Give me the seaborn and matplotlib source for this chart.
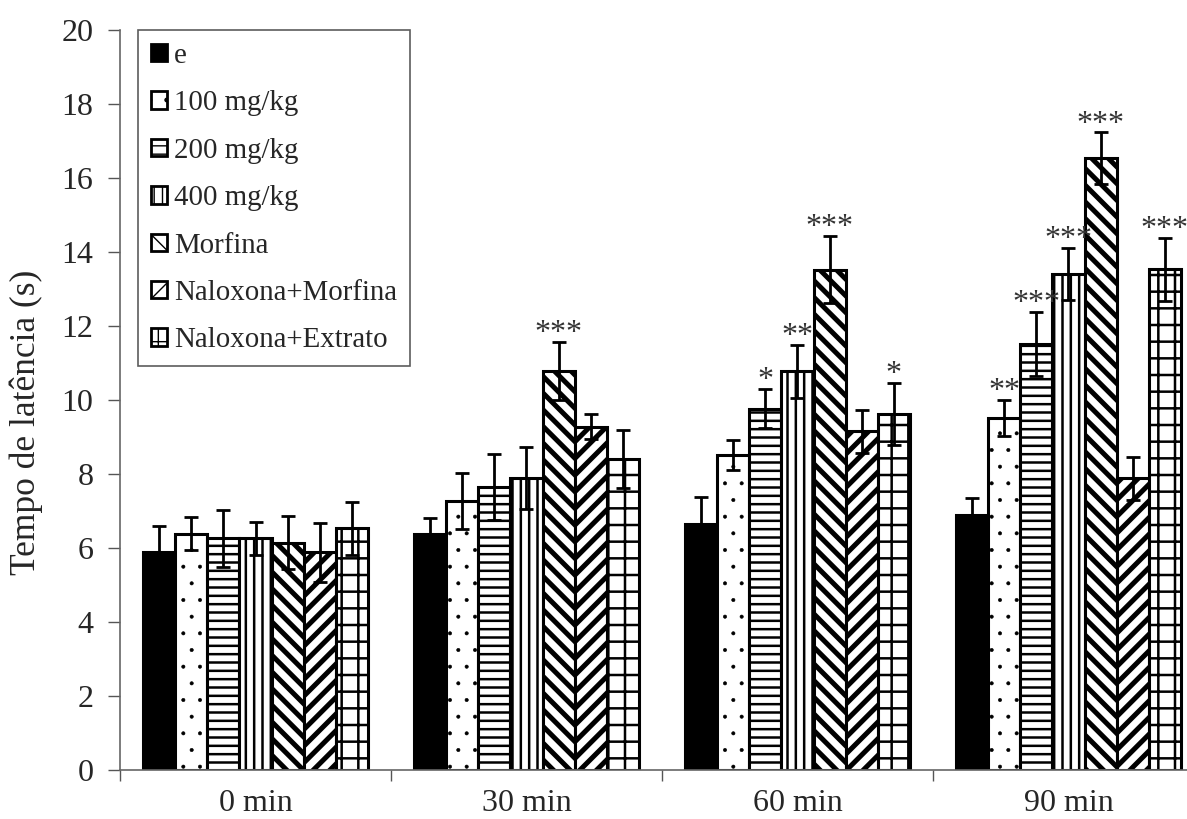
import numpy as np
import pandas as pd
import matplotlib
matplotlib.use("Agg")
import matplotlib.pyplot as plt
import seaborn as sns

# --- data -------------------------------------------------------------
tempos = ["0 min", "30 min", "60 min", "90 min"]
grupos = ["e", "100 mg/kg", "200 mg/kg", "400 mg/kg", "Morfina",
          "Naloxona+Morfina", "Naloxona+Extrato"]

media_e = [5.88, 6.39, 6.65, 6.88]
media_100 = [6.39, 7.27, 8.52, 9.52]
media_200 = [6.26, 7.65, 9.77, 11.52]
media_400 = [6.26, 7.89, 10.78, 13.40]
media_morfina = [6.14, 10.78, 13.52, 16.53]
media_nal_morfina = [5.88, 9.28, 9.15, 7.88]
media_nal_extrato = [6.53, 8.40, 9.63, 13.53]

epm_e = [0.72, 0.41, 0.72, 0.48]
epm_100 = [0.45, 0.75, 0.40, 0.49]
epm_200 = [0.77, 0.88, 0.53, 0.87]
epm_400 = [0.45, 0.84, 0.72, 0.71]
epm_morfina = [0.72, 0.79, 0.91, 0.70]
epm_nal_morfina = [0.80, 0.34, 0.58, 0.57]
epm_nal_extrato = [0.72, 0.78, 0.84, 0.85]

sig_e = ["", "", "", ""]
sig_100 = ["", "", "", "**"]
sig_200 = ["", "", "*", "***"]
sig_400 = ["", "", "**", "***"]
sig_morfina = ["", "***", "***", "***"]
sig_nal_morfina = ["", "", "", ""]
sig_nal_extrato = ["", "", "*", "***"]

medias = [media_e, media_100, media_200, media_400, media_morfina,
          media_nal_morfina, media_nal_extrato]
epms = [epm_e, epm_100, epm_200, epm_400, epm_morfina,
        epm_nal_morfina, epm_nal_extrato]
sigs = [sig_e, sig_100, sig_200, sig_400, sig_morfina,
        sig_nal_morfina, sig_nal_extrato]

df = pd.DataFrame(
    [(t, g, medias[i][j]) for i, g in enumerate(grupos)
     for j, t in enumerate(tempos)],
    columns=["tempo", "grupo", "latencia"],
)

# --- styling ----------------------------------------------------------
sns.set_style("ticks")
plt.rcParams["font.family"] = ["Liberation Serif", "DejaVu Serif"]
plt.rcParams["hatch.color"] = "black"

# fill, hatch pattern and hatch stroke width for each group
estilos = [
    ("black", "", 1.6),
    ("white", ".", 0.4),
    ("white", "--", 1.8),
    ("white", "||", 1.8),
    ("white", "\\\\", 3.6),
    ("white", "//", 3.6),
    ("white", "+", 1.8),
]

fig = plt.figure(figsize=(11.87, 8.19), dpi=100)
W, H = 1187.0, 819.0
ax = fig.add_axes([120 / W, 1 - 770 / H, 1084 / W, 740 / H])

sns.barplot(data=df, x="tempo", y="latencia", hue="grupo",
            order=tempos, hue_order=grupos, width=0.828,
            errorbar=None, legend=False, ax=ax,
            palette=["white"] * len(grupos), saturation=1)

barras = list(ax.containers)
for k, cont in enumerate(barras):
    face, hatch, hlw = estilos[k]
    for p in cont.patches:
        p.set_facecolor(face)
        p.set_edgecolor("black")
        p.set_linewidth(2.2)
        p.set_hatch(hatch)
        if hasattr(p, "set_hatch_linewidth"):
            p.set_hatch_linewidth(hlw)
    xs = [p.get_x() + p.get_width() / 2 for p in cont.patches]
    ax.errorbar(xs, medias[k], yerr=epms[k], fmt="none", ecolor="black",
                elinewidth=2, capsize=5, capthick=2, zorder=5)
    for x, m, e, s in zip(xs, medias[k], epms[k], sigs[k]):
        if s:
            ax.text(x, m + e + 0.02, s, ha="center", va="baseline",
                    fontsize=23, color="#333333", clip_on=False)

# --- axes -------------------------------------------------------------
ax.set_xlim(-0.5, 3.5)
ax.set_ylim(0, 20)
ax.set_yticks(np.arange(0, 21, 2))
ax.set_xticks(range(len(tempos)))
ax.set_xticklabels(tempos)
ax.set_xticks(np.arange(-0.5, 4, 1), minor=True)
ax.tick_params(axis="x", which="major", length=0, pad=14, labelsize=23)
ax.tick_params(axis="x", which="minor", length=8, width=1, color="#555555",
               direction="out")
ax.tick_params(axis="y", length=9, width=1, color="#555555", pad=10,
               labelsize=23, direction="out")
ax.set_xlabel("")
ax.set_ylabel("Tempo de latência (s)", fontsize=25.5)
ax.yaxis.set_label_coords(-0.071, 0.47)
sns.despine(ax=ax)
for side in ("left", "bottom"):
    ax.spines[side].set_color("#666666")
    ax.spines[side].set_linewidth(1.2)

# legend built from the bar containers
handles = [cont.patches[0] for cont in barras]
leg = ax.legend(handles, grupos, loc="upper left",
                bbox_to_anchor=(18 / 1084, 1.0), borderaxespad=0,
                fontsize=20.8, frameon=True, fancybox=False,
                handlelength=0.55, handleheight=0.55, handletextpad=0.25,
                labelspacing=0.74, borderpad=0.45)
leg.get_frame().set_edgecolor("#333333")
leg.get_frame().set_linewidth(1.2)
for h in leg.legend_handles:
    h.set_linewidth(2)

fig.savefig("out.png", dpi=100)
